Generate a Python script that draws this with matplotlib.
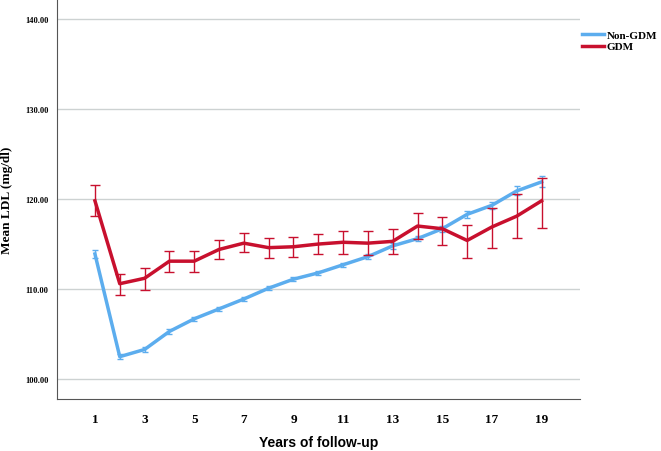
import numpy as np
import matplotlib
matplotlib.use("Agg")
import matplotlib.pyplot as plt

years = np.arange(1, 20)
xtick_years = [1, 3, 5, 7, 9, 11, 13, 15, 17, 19]
yticks = [100, 110, 120, 130, 140]

non_gdm_mean = [113.9, 102.5, 103.3, 105.3, 106.7, 107.8, 108.9, 110.1, 111.1, 111.8,
                112.7, 113.6, 114.8, 115.6, 116.7, 118.3, 119.3, 120.9, 121.9]
non_gdm_err = [0.4, 0.3, 0.25, 0.25, 0.25, 0.25, 0.25, 0.25, 0.25, 0.25,
               0.25, 0.25, 0.3, 0.3, 0.35, 0.4, 0.4, 0.5, 0.6]

gdm_mean = [119.8, 110.6, 111.2, 113.1, 113.1, 114.4, 115.1, 114.6, 114.7, 115.0,
            115.2, 115.1, 115.3, 117.0, 116.7, 115.4, 116.9, 118.1, 119.8]
gdm_lo = [118.1, 109.3, 109.9, 111.9, 111.9, 113.3, 114.1, 113.5, 113.6, 113.9,
          113.9, 113.8, 113.9, 115.6, 114.9, 113.4, 114.6, 115.7, 116.8]
gdm_hi = [121.6, 111.7, 112.3, 114.2, 114.2, 115.4, 116.2, 115.7, 115.8, 116.1,
          116.4, 116.4, 116.7, 118.4, 118.0, 117.1, 119.0, 120.6, 122.3]

blue = "#5CADEE"
red = "#C8102E"

fig = plt.figure(figsize=(6.61, 4.52), dpi=100)
ax = fig.add_axes([0.0862, 0.115, 0.7913, 0.885])

ax.errorbar(years, non_gdm_mean, yerr=non_gdm_err, color=blue, lw=2.5,
            elinewidth=1.0, capsize=2.5, capthick=1.0, label="Non-GDM", zorder=3)
gm = np.array(gdm_mean)
yerr = [gm - np.array(gdm_lo), np.array(gdm_hi) - gm]
ax.errorbar(years, gdm_mean, yerr=yerr, color=red, lw=2.5,
            elinewidth=1.0, capsize=3.5, capthick=1.0, label="GDM", zorder=4)

ax.set_xlim(-0.53, 20.55)
ax.set_ylim(97.8, 142.2)
ax.set_yticks(yticks)
ax.set_yticklabels([f"{v:.2f}" for v in yticks])
ax.set_xticks(xtick_years)
ax.grid(axis="y", color="#CDD2D2", lw=1.0)
ax.set_axisbelow(True)
for s in ["top", "right"]:
    ax.spines[s].set_visible(False)
ax.spines["left"].set_color("#555555")
ax.spines["bottom"].set_color("#555555")
ax.tick_params(length=0)

for lab in ax.get_yticklabels():
    lab.set_fontfamily("Liberation Serif")
    lab.set_fontweight("bold")
    lab.set_fontsize(6)
for lab in ax.get_xticklabels():
    lab.set_fontfamily("Liberation Serif")
    lab.set_fontweight("bold")
    lab.set_fontsize(9.5)
ax.tick_params(axis="x", pad=10)
ax.tick_params(axis="y", pad=6)

# axis titles placed by hand, the default pads push them off the figure
fig.text(318.5 / 661, 0.02, "Years of follow-up", ha="center", va="center",
         fontfamily="Liberation Sans", fontweight="bold", fontsize=10)
fig.text(7.5 / 661, 1 - 200 / 452, "Mean LDL (mg/dl)", ha="center", va="center",
         rotation=90, fontfamily="Liberation Serif", fontweight="bold", fontsize=9.5)

handles = [plt.Line2D([], [], color=blue, lw=2.5), plt.Line2D([], [], color=red, lw=2.5)]
fig.legend(handles, ["Non-GDM", "GDM"], loc="upper left", bbox_to_anchor=(0.866, 0.953),
           frameon=False, handlelength=1.9, handletextpad=0.3, labelspacing=0.15,
           prop={"family": "Liberation Serif", "weight": "bold", "size": 8})

fig.savefig("out.png", dpi=100)
